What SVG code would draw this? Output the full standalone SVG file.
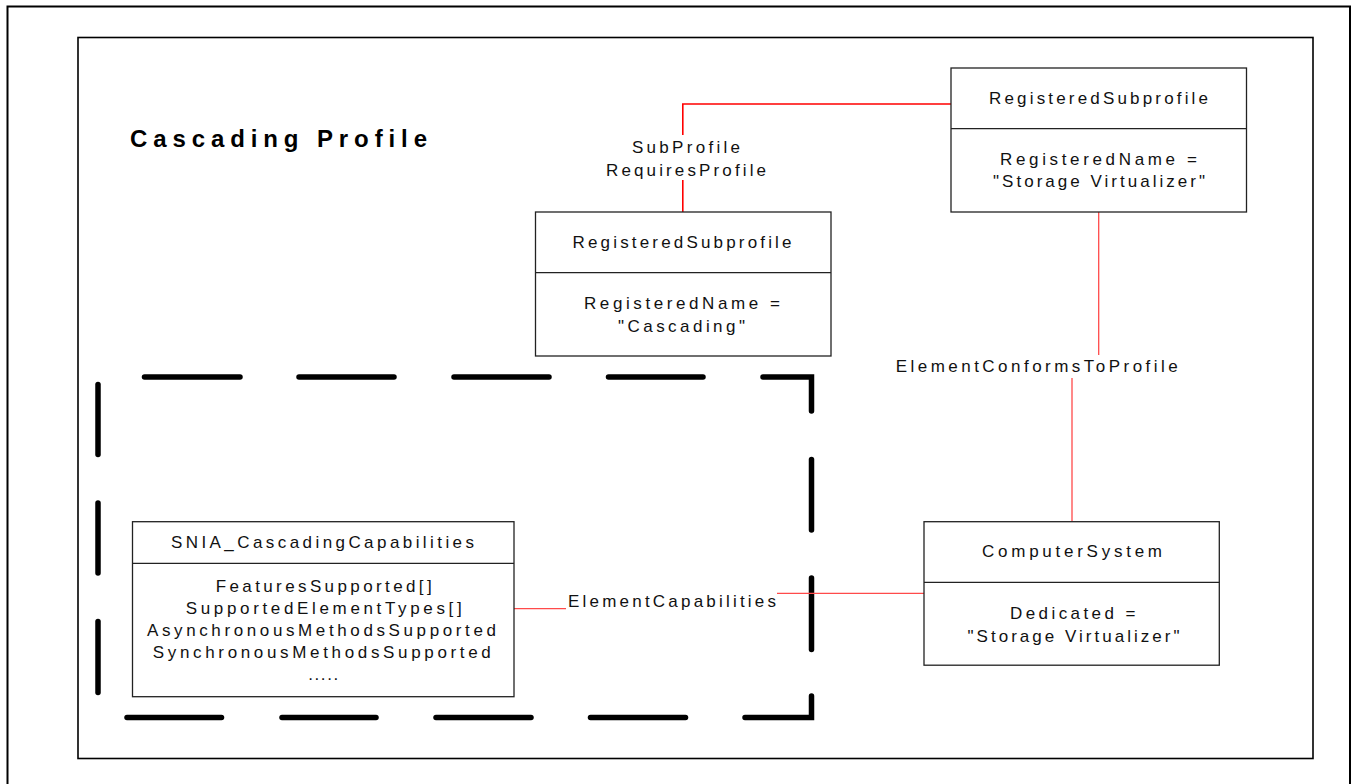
<svg xmlns="http://www.w3.org/2000/svg" width="1353" height="784" viewBox="0 0 1353 784">
<style>
.frame{fill:none;stroke:#000}
.box{fill:#fff;stroke:#222;stroke-width:1.3}
.div{stroke:#222;stroke-width:1.3}
.t{font-family:"Liberation Sans",Arial,sans-serif;font-size:17px;fill:#111;text-anchor:middle}
.title{font-family:"Liberation Sans",Arial,sans-serif;font-size:24px;font-weight:bold;fill:#000}
.dash{fill:none;stroke:#000;stroke-width:5.5;stroke-linecap:round;stroke-linejoin:miter}
.c1{fill:none;stroke:#ff0000;stroke-width:1.6}
.c2{fill:none;stroke:#ff4a4a;stroke-width:1.3}
</style>
<rect width="1353" height="784" fill="#fff"/>
<rect class="frame" x="7.5" y="6.5" width="1342.5" height="800" stroke-width="2"/>
<rect class="frame" x="78" y="37.5" width="1235" height="721" stroke-width="1.6" stroke="#111"/>
<text class="title" x="130" y="146.7" textLength="297" lengthAdjust="spacing">Cascading Profile</text>

<g id="dashed-boundary">
<line class="dash" x1="144.5" y1="377" x2="240" y2="377"/>
<line class="dash" x1="299" y1="377" x2="394" y2="377"/>
<line class="dash" x1="454" y1="377" x2="549" y2="377"/>
<line class="dash" x1="608.5" y1="377" x2="703" y2="377"/>
<polyline class="dash" points="763,377 811.5,377 811.5,411"/>
<line class="dash" x1="811.5" y1="459.5" x2="811.5" y2="530"/>
<line class="dash" x1="811.5" y1="578" x2="811.5" y2="649.5"/>
<polyline class="dash" points="811.5,696 811.5,717.5 745,717.5"/>
<line class="dash" x1="127" y1="717.5" x2="221.5" y2="717.5"/>
<line class="dash" x1="282" y1="717.5" x2="376" y2="717.5"/>
<line class="dash" x1="436" y1="717.5" x2="531" y2="717.5"/>
<line class="dash" x1="590.5" y1="717.5" x2="685.5" y2="717.5"/>
<line class="dash" x1="98" y1="384.5" x2="98" y2="454.5"/>
<line class="dash" x1="98" y1="503" x2="98" y2="573"/>
<line class="dash" x1="98" y1="621.5" x2="98" y2="692.5"/>
</g>

<g id="connectors">
<polyline class="c1" points="951,104 682.8,104 682.8,135"/>
<line class="c1" x1="682.8" y1="180" x2="682.8" y2="212"/>
<text class="t" x="686" y="153.3" textLength="108" lengthAdjust="spacing">SubProfile</text>
<text class="t" x="686" y="175.5" textLength="160" lengthAdjust="spacing">RequiresProfile</text>
<line class="c2" x1="1098.7" y1="212" x2="1098.7" y2="355"/>
<line class="c2" x1="1072" y1="378" x2="1072" y2="521.7"/>
<text class="t" x="1036.7" y="372.3" textLength="282" lengthAdjust="spacing">ElementConformsToProfile</text>
<line class="c2" x1="514" y1="608.7" x2="566" y2="608.7"/>
<line class="c2" x1="777" y1="593.3" x2="924" y2="593.3"/>
<text class="t" x="672" y="607" textLength="208" lengthAdjust="spacing">ElementCapabilities</text>
</g>

<g id="rs-storage-virtualizer">
<rect class="box" x="951" y="68" width="295.5" height="144"/>
<line class="div" x1="951" y1="128.7" x2="1246.5" y2="128.7"/>
<text class="t" x="1098.5" y="104" textLength="219" lengthAdjust="spacing">RegisteredSubprofile</text>
<text class="t" x="1098.5" y="165.3" textLength="197" lengthAdjust="spacing">RegisteredName =</text>
<text class="t" x="1099" y="187.3" textLength="212" lengthAdjust="spacing">"Storage Virtualizer"</text>
</g>

<g id="rs-cascading">
<rect class="box" x="535.5" y="212" width="295.5" height="144"/>
<line class="div" x1="535.5" y1="272.7" x2="831" y2="272.7"/>
<text class="t" x="682" y="248.3" textLength="219" lengthAdjust="spacing">RegisteredSubprofile</text>
<text class="t" x="682" y="309.3" textLength="196" lengthAdjust="spacing">RegisteredName =</text>
<text class="t" x="681.5" y="331.7" textLength="127" lengthAdjust="spacing">"Cascading"</text>
</g>

<g id="snia-cascading-capabilities">
<rect class="box" x="132.5" y="521.7" width="381.5" height="175"/>
<line class="div" x1="132.5" y1="563.3" x2="514" y2="563.3"/>
<text class="t" x="322.5" y="548.3" textLength="303" lengthAdjust="spacing">SNIA_CascadingCapabilities</text>
<text class="t" x="323.7" y="592.3" textLength="216" lengthAdjust="spacing">FeaturesSupported[]</text>
<text class="t" x="323.7" y="614.3" textLength="276" lengthAdjust="spacing">SupportedElementTypes[]</text>
<text class="t" x="321.5" y="636" textLength="349" lengthAdjust="spacing">AsynchronousMethodsSupported</text>
<text class="t" x="321.8" y="657.7" textLength="338" lengthAdjust="spacing">SynchronousMethodsSupported</text>
<text class="t" x="323.2" y="680" textLength="30" lengthAdjust="spacing">.....</text>
</g>

<g id="computer-system">
<rect class="box" x="924" y="521.7" width="295.3" height="143.5"/>
<line class="div" x1="924" y1="582.3" x2="1219.3" y2="582.3"/>
<text class="t" x="1072" y="557.3" textLength="180" lengthAdjust="spacing">ComputerSystem</text>
<text class="t" x="1072.7" y="619.3" textLength="125.5" lengthAdjust="spacing">Dedicated =</text>
<text class="t" x="1073.5" y="641.7" textLength="212" lengthAdjust="spacing">"Storage Virtualizer"</text>
</g>
</svg>
